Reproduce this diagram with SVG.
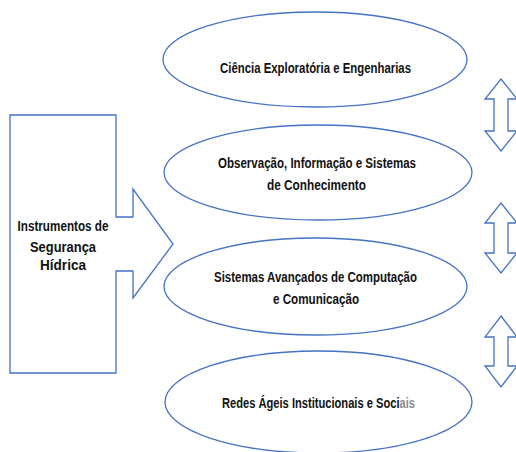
<svg xmlns="http://www.w3.org/2000/svg" width="516" height="452" viewBox="0 0 516 452">
<style>
.s{fill:#fff;stroke:#4472c4;stroke-width:1.3}
.t{font-family:"Liberation Sans",Arial,sans-serif;font-weight:bold;font-size:14px;fill:#111;text-anchor:middle}
.g{fill:#8a8a8a}
</style>
<rect width="516" height="452" fill="#fff"/>
<g id="instrumentos">
<path class="s" d="M10,115 H116 V217 H133 V189 L173,244 L133,298 V271 H116 V373 H10 Z"/>
<text class="t" x="63" y="231" textLength="91" lengthAdjust="spacingAndGlyphs">Instrumentos de</text>
<text class="t" x="63" y="252" textLength="66" lengthAdjust="spacingAndGlyphs">Segurança</text>
<text class="t" x="63" y="270" textLength="46" lengthAdjust="spacingAndGlyphs">Hídrica</text>
</g>
<g id="ciencia">
<ellipse class="s" cx="315" cy="59.5" rx="152" ry="47.5"/>
<text class="t" x="315.5" y="73" textLength="191" lengthAdjust="spacingAndGlyphs">Ciência Exploratória e Engenharias</text>
</g>
<g id="observacao">
<ellipse class="s" cx="318" cy="172.5" rx="154" ry="47.5"/>
<text class="t" x="317" y="168" textLength="198" lengthAdjust="spacingAndGlyphs">Observação, Informação e Sistemas</text>
<text class="t" x="316.5" y="190" textLength="99" lengthAdjust="spacingAndGlyphs">de Conhecimento</text>
</g>
<g id="sistemas">
<ellipse class="s" cx="315.5" cy="286.5" rx="151.5" ry="48.5"/>
<text class="t" x="315.5" y="282" textLength="203" lengthAdjust="spacingAndGlyphs">Sistemas Avançados de Computação</text>
<text class="t" x="316" y="304" textLength="86" lengthAdjust="spacingAndGlyphs">e Comunicação</text>
</g>
<g id="redes">
<ellipse class="s" cx="318.5" cy="402" rx="153.5" ry="51"/>
<text class="t" x="318.5" y="408" textLength="193" lengthAdjust="spacingAndGlyphs">Redes Ágeis Institucionais e Soci<tspan class="g">ais</tspan></text>
</g>
<g id="connectors">
<path class="s" d="M501,79 L517,99 H508 V131 H517 L501,151 L485,131 H494 V99 H485 Z"/>
<path class="s" d="M501,203 L517,223 H508 V253 H517 L501,273 L485,253 H494 V223 H485 Z"/>
<path class="s" d="M501,316 L517,337 H508 V366 H517 L501,387 L485,366 H494 V337 H485 Z"/>
</g>
</svg>
